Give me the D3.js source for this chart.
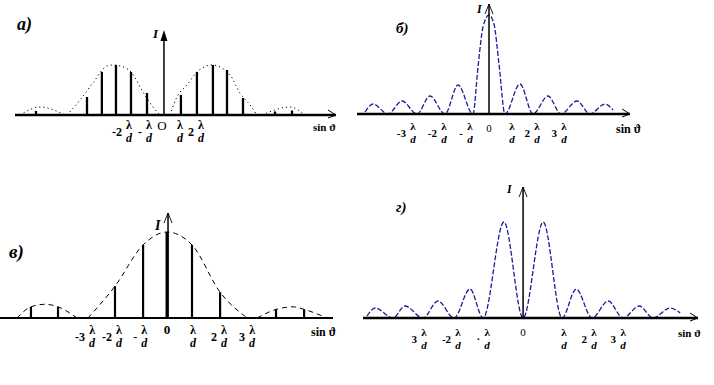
<!DOCTYPE html>
<html><head><meta charset="utf-8">
<script src="https://cdn.jsdelivr.net/npm/d3@7"></script>
<style>
html,body{margin:0;padding:0;background:#fff;}
svg{display:block;}
text{font-family:"Liberation Serif","DejaVu Serif",serif;fill:#000;}
</style></head>
<body>
<svg id="c" width="714" height="385"></svg>
<script>
// ---------- DATA (x in units of λ/d along sin ϑ, h = relative intensity) ----------
// Panel а): principal maxima lines
const aLineX = [-4.81,-3.88,-3.0,-2.06,-1.06,1.06,2.06,3.06,3.94,4.94,-8.0,6.94,8.0];
const aLineH = [0.36,0.86,1.0,0.86,0.44,0.40,0.86,1.0,0.90,0.34,0.08,0.07,0.09];
// Panel а): dotted envelope (lobes)
const aEnvLeftX  = [-6.06,-5.25,-4.44,-3.56,-3.19,-2.75,-2.06,-1.31,-0.69,-0.25];
const aEnvLeftH  = [0,0.3,0.64,0.98,1.0,0.98,0.86,0.46,0.16,0];
const aEnvRightX = [0.38,0.81,1.44,2.06,3.0,4.13,4.75,5.38,5.81];
const aEnvRightH = [0,0.36,0.6,0.86,1.0,0.8,0.44,0.2,0];
const aSideLX = [-9.0,-7.75,-6.19], aSideLH = [0,0.16,0];
const aSideRX = [6.13,7.88,8.81],  aSideRH = [0,0.16,0];
const aTickX = [-2.19,-0.94,1.0,2.31], aTickCoef = ["-2","-","","2"];

// Panel б): single-slit like pattern
const bCurveX = [-4.96,-4.64,-4.04,-3.48,-2.88,-2.36,-1.76,-1.24,-0.64,-0.44,-0.24,0,0.2,0.4,0.64,1.24,1.76,2.36,2.88,3.52,4.04,4.64,4.96];
const bCurveH = [0.02,0.10,0,0.13,0,0.18,0,0.29,0,0.47,0.87,0.99,0.90,0.5,0,0.30,0,0.18,0,0.13,0,0.10,0.04];
const bTickX = [-3.04,-1.8,-0.76,0.92,1.92,3.0], bTickCoef = ["-3","-2","-","","2","3"];

// Panel в): grating lines with dashed envelope
const vLineX = [-5.23,-4.19,-2.0,-0.92,0,0.96,2.04,4.19,5.27];
const vLineH = [0.13,0.13,0.37,0.85,1.0,0.85,0.30,0.10,0.10];
const vEnvLX = [-5.77,-5.23,-4.69,-4.19,-3.46], vEnvLH = [0,0.13,0.16,0.13,0];
const vEnvCX = [-3.04,-2.0,-0.92,0,0.96,2.04,3.08], vEnvCH = [0,0.37,0.85,1.0,0.85,0.30,0];
const vEnvRX = [3.46,4.19,4.85,5.27,6.15], vEnvRH = [0,0.10,0.13,0.10,0];
const vTickX = [-2.88,-1.85,-0.88,1.0,2.19,3.27], vTickCoef = ["-3","-2","-","","2","3"];

// Panel г): pattern with zero at centre
const gCurveX = [-4.73,-4.48,-3.94,-3.58,-3.03,-2.58,-2.09,-1.61,-1.21,-0.58,0,0.61,1.18,1.61,2.09,2.58,3.03,3.52,3.94,4.45,4.76];
const gCurveH = [0.02,0.10,0,0.12,0,0.17,0,0.29,0,0.96,0,0.96,0,0.29,0,0.17,0,0.12,0,0.10,0.05];
const gTickX = [-3.0,-1.97,-1.09,1.24,2.15,3.03], gTickCoef = ["3","-2","·","","2","3"];

// ---------- DRAWING ----------
const svg = d3.select("#c");
const navy = "#1c1c96";
const zip = (xs, hs) => xs.map((x,i)=>[x,hs[i]]);

function axisX(g, x0, x1, y, w, arrow){
  g.append("line").attr("x1",x0).attr("x2",x1).attr("y1",y).attr("y2",y)
    .attr("stroke","#000").attr("stroke-width",w);
  if(arrow){
    g.append("path").attr("d",`M${x1-8},${y-5}L${x1},${y}L${x1-8},${y+3}`)
      .attr("fill","none").attr("stroke","#000").attr("stroke-width",1);
  }
}
function axisY(g, x, y0, y1, filled){
  g.append("line").attr("x1",x).attr("x2",x).attr("y1",y0).attr("y2",filled?y1+6:y1)
    .attr("stroke","#000").attr("stroke-width",1.5);
  if(filled){
    g.append("path").attr("d",`M${x-3.5},${y1+11}L${x},${y1}L${x+3.5},${y1+11}Z`).attr("fill","#000");
  } else {
    g.append("path").attr("d",`M${x-4},${y1+10}L${x},${y1}L${x+4},${y1+10}`)
      .attr("fill","none").attr("stroke","#000").attr("stroke-width",0.9);
  }
}
// tick label: coefficient + stacked λ over d
function ticks(g, xs, coefs, xScale, yL, fs){
  const yD = yL + 13;
  xs.forEach((xv,i)=>{
    const cx = xScale(xv);
    if(coefs[i]) g.append("text").attr("x",cx-7).attr("y",yL+7).attr("font-size",fs)
      .attr("font-weight","bold").attr("text-anchor","end").text(coefs[i]);
    g.append("text").attr("x",cx).attr("y",yL).attr("font-size",fs)
      .attr("font-weight","bold").attr("text-anchor","middle").text("λ");
    g.append("text").attr("x",cx).attr("y",yD).attr("font-size",fs)
      .attr("font-weight","bold").attr("text-anchor","middle").attr("font-style","italic").text("d");
  });
}
function label(g,x,y,t,fs){
  g.append("text").attr("x",x).attr("y",y).attr("font-size",fs)
    .attr("font-style","italic").attr("font-weight","bold").text(t);
}

// ---- Panel а ----
{
  const g = svg.append("g");
  const x = d3.scaleLinear().domain([-9.31,10.69]).range([15,335]);
  const y = d3.scaleLinear().domain([0,1]).range([115,65]);
  const env = d3.line().x(d=>x(d[0])).y(d=>y(d[1])).curve(d3.curveMonotoneX);
  [zip(aEnvLeftX,aEnvLeftH),zip(aEnvRightX,aEnvRightH),zip(aSideLX,aSideLH),zip(aSideRX,aSideRH)].forEach(p=>{
    g.append("path").attr("d",env(p)).attr("fill","none").attr("stroke","#000")
      .attr("stroke-width",1).attr("stroke-dasharray","1.2,3");
  });
  g.selectAll("line.l").data(zip(aLineX,aLineH)).join("line").attr("class","l")
    .attr("x1",d=>x(d[0])).attr("x2",d=>x(d[0])).attr("y1",y(0)).attr("y2",d=>y(d[1]))
    .attr("stroke","#000").attr("stroke-width",2.3);
  axisX(g, 15, 336, y(0), 2.5, true);
  axisY(g, x(0), y(0), 30, true);
  ticks(g, aTickX, aTickCoef, x, 129, 12);
  g.append("text").attr("x",x(-0.12)).attr("y",130).attr("text-anchor","middle").attr("font-size",13).text("O");
  g.append("text").attr("x",153).attr("y",38).attr("font-size",13).attr("font-style","italic").attr("font-weight","bold").text("I");
  g.append("text").attr("x",313).attr("y",131).attr("font-size",11).attr("font-weight","bold").text("sin ϑ");
  label(g,17,30,"а)",18);
}

// ---- Panel б ----
{
  const g = svg.append("g");
  const x = d3.scaleLinear().domain([-5.28,5.64]).range([357,630]);
  const y = d3.scaleLinear().domain([0,1]).range([114,14]);
  const ln = d3.line().x(d=>x(d[0])).y(d=>y(d[1])).curve(d3.curveMonotoneX);
  g.append("path").attr("d",ln(zip(bCurveX,bCurveH))).attr("fill","none").attr("stroke",navy)
    .attr("stroke-width",1.3).attr("stroke-dasharray","5,2");
  axisX(g, 357, 630, y(0), 2.5, true);
  axisY(g, x(0), y(0), 4, false);
  ticks(g, bTickX, bTickCoef, x, 130, 11);
  g.append("text").attr("x",x(0)).attr("y",132).attr("text-anchor","middle").attr("font-size",11).text("0");
  g.append("text").attr("x",477).attr("y",13).attr("font-size",12).attr("font-style","italic").attr("font-weight","bold").text("I");
  g.append("text").attr("x",616).attr("y",133).attr("font-size",12).attr("font-weight","bold").text("sin ϑ");
  label(g,396,33,"б)",15);
}

// ---- Panel в ----
{
  const g = svg.append("g");
  const x = d3.scaleLinear().domain([-6.42,6.38]).range([0,333]);
  const y = d3.scaleLinear().domain([0,1]).range([318,232]);
  const env = d3.line().x(d=>x(d[0])).y(d=>y(d[1])).curve(d3.curveMonotoneX);
  [zip(vEnvLX,vEnvLH),zip(vEnvCX,vEnvCH),zip(vEnvRX,vEnvRH)].forEach(p=>{
    g.append("path").attr("d",env(p)).attr("fill","none").attr("stroke","#000")
      .attr("stroke-width",1).attr("stroke-dasharray","5,4");
  });
  g.selectAll("line.l").data(zip(vLineX,vLineH)).join("line").attr("class","l")
    .attr("x1",d=>x(d[0])).attr("x2",d=>x(d[0])).attr("y1",y(0)).attr("y2",d=>y(d[1]))
    .attr("stroke","#000").attr("stroke-width",d=>d[0]===0?3:2.2);
  axisX(g, 0, 333, y(0), 2.2, false);
  axisY(g, x(0)+1, y(0), 213, false);
  ticks(g, vTickX, vTickCoef, x, 334, 12);
  g.append("text").attr("x",x(0)).attr("y",334).attr("text-anchor","middle").attr("font-size",13).attr("font-weight","bold").text("0");
  g.append("text").attr("x",155).attr("y",230).attr("font-size",14).attr("font-style","italic").attr("font-weight","bold").text("I");
  g.append("text").attr("x",311).attr("y",336).attr("font-size",12).attr("font-weight","bold").text("sin ϑ");
  label(g,9,258,"в)",19);
}

// ---- Panel г ----
{
  const g = svg.append("g");
  const x = d3.scaleLinear().domain([-4.85,5.30]).range([363,698]);
  const y = d3.scaleLinear().domain([0,1]).range([318,218]);
  const ln = d3.line().x(d=>x(d[0])).y(d=>y(d[1])).curve(d3.curveMonotoneX);
  g.append("path").attr("d",ln(zip(gCurveX,gCurveH))).attr("fill","none").attr("stroke",navy)
    .attr("stroke-width",1.3).attr("stroke-dasharray","5,2");
  axisX(g, 363, 698, y(0), 2.5, true);
  axisY(g, x(0), y(0), 187, false);
  ticks(g, gTickX, gTickCoef, x, 336, 11);
  g.append("text").attr("x",x(0)).attr("y",336).attr("text-anchor","middle").attr("font-size",11).text("0");
  g.append("text").attr("x",507).attr("y",193).attr("font-size",12).attr("font-style","italic").attr("font-weight","bold").text("I");
  g.append("text").attr("x",678).attr("y",337).attr("font-size",11).attr("font-weight","bold").text("sin ϑ");
  label(g,396,212,"г)",15);
}
</script>
</body></html>
